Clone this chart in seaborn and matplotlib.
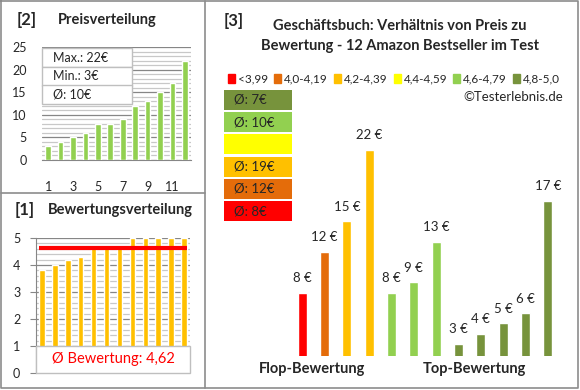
import seaborn as sns
import matplotlib.pyplot as plt
from matplotlib.patches import Rectangle, Patch
from matplotlib.lines import Line2D
from matplotlib.ticker import MultipleLocator
from matplotlib.transforms import blended_transform_factory

# [2] sorted prices of the 12 books
price_sorted = [3, 4, 5, 6, 8, 8, 9, 12, 13, 15, 17, 22]
price_ticks = ['1', '3', '5', '7', '9', '11']
price_stats = ['Max.: 22€', 'Min.: 3€', 'Ø: 10€']

# [1] sorted ratings
ratings = [3.8, 4.0, 4.2, 4.3, 4.7, 4.7, 4.7, 5.0, 5.0, 5.0, 5.0, 5.0]
rating_avg = 4.62
rating_avg_label = 'Ø Bewertung: 4,62'

# [3] price per book, grouped by rating class
book_ids = [str(i) for i in range(1, 13)]
book_prices = [8, 12, 15, 22, 8, 9, 13, 3, 4, 5, 6, 17]
book_classes = ['<3,99', '4,0-4,19', '4,2-4,39', '4,2-4,39', '4,6-4,79', '4,6-4,79',
                '4,6-4,79', '4,8-5,0', '4,8-5,0', '4,8-5,0', '4,8-5,0', '4,8-5,0']
class_names = ['<3,99', '4,0-4,19', '4,2-4,39', '4,4-4,59', '4,6-4,79', '4,8-5,0']
class_colors = ['#FF0000', '#E46C0A', '#FFC000', '#FFFF00', '#92D050', '#77933C']
class_avg = ['Ø: 8€', 'Ø: 12€', 'Ø: 19€', '', 'Ø: 10€', 'Ø: 7€']

W, H = 580, 390
GRID_DARK = '#868686'
GRID_LIGHT = '#C8C8C8'
FRAME = '#8C8C8C'

sns.set_style('white')
plt.rcParams['font.family'] = ['Lato', 'DejaVu Sans']


def fx(px):
    return px / W


def fy(py):
    return 1 - py / H


def axes_px(left, top, right, bottom):
    return [fx(left), fy(bottom), (right - left) / W, (bottom - top) / H]


fig = plt.figure(figsize=(W / 100, H / 100), dpi=100)

# frames
for xs, ys in [([1, 578, 578, 1, 1], [1, 1, 388, 388, 1]), ([205, 205], [1, 388]), ([1, 205], [193, 193])]:
    fig.add_artist(Line2D([fx(x) for x in xs], [fy(y) for y in ys], color=FRAME, lw=1.2,
                          transform=fig.transFigure))

# ---- [2] Preisverteilung
ax2 = fig.add_axes(axes_px(42, 47, 191, 160))
sns.barplot(x=book_ids, y=price_sorted, color='#92D050', width=0.45, ax=ax2, zorder=3, saturation=1)
ax2.set_ylim(0, 25)
ax2.set_xlim(-0.5, 11.5)
ax2.set_yticks(range(0, 26, 5))
ax2.yaxis.set_minor_locator(MultipleLocator(1))
ax2.set_xticks(range(0, 12, 2))
ax2.set_xticklabels(price_ticks)
ax2.grid(True, axis='y', which='major', color=GRID_DARK, lw=0.9)
ax2.grid(True, axis='y', which='minor', color=GRID_LIGHT, lw=0.9)
ax2.set_axisbelow(True)
for s in ['top', 'right', 'left']:
    ax2.spines[s].set_visible(False)
ax2.spines['bottom'].set_color(GRID_DARK)
ax2.tick_params(axis='y', length=0, pad=11, labelsize=9)
ax2.tick_params(axis='x', length=0, pad=15, labelsize=9)
ax2.tick_params(which='minor', length=0)
ax2.set_xlabel('')
ax2.set_ylabel('')

fig.text(fx(17), fy(20), '[2]', fontsize=12, fontweight='bold', va='center')
fig.text(fx(58), fy(20), 'Preisverteilung', fontsize=10.5, fontweight='bold', va='center')

row_tops = [48, 67, 85]
for top, label in zip(row_tops, price_stats):
    fig.add_artist(Rectangle((fx(42), fy(top + 18.5)), 90 / W, 18.5 / H, transform=fig.transFigure,
                             facecolor='white', edgecolor='#BFBFBF', lw=1))
    fig.text(fx(53), fy(top + 9.5), label, fontsize=9, va='center')

# ---- [1] Bewertungsverteilung
ax1 = fig.add_axes(axes_px(35.5, 238, 190.5, 373))
sns.barplot(x=book_ids, y=ratings, color='#FFC000', width=0.42, ax=ax1, zorder=3, saturation=1)
ax1.set_ylim(0, 5)
ax1.set_xlim(-0.5, 11.5)
ax1.yaxis.set_minor_locator(MultipleLocator(0.2))
ax1.grid(True, axis='y', which='major', color=GRID_DARK, lw=0.9)
ax1.grid(True, axis='y', which='minor', color=GRID_LIGHT, lw=0.9)
ax1.set_axisbelow(True)
for s in ['top', 'right', 'bottom']:
    ax1.spines[s].set_visible(False)
ax1.spines['left'].set_color(GRID_DARK)
ax1.tick_params(axis='y', which='major', length=4, color=GRID_DARK, direction='out', pad=7, labelsize=9, left=True)
ax1.tick_params(which='minor', length=0)
ax1.set_xticks([])
ax1.set_xlabel('')
ax1.set_ylabel('')
ax1.hlines(rating_avg, -0.2, len(ratings) - 0.8, color='#FF0000', lw=3, zorder=4)

trans = blended_transform_factory(ax1.transAxes, ax1.transData)
ax1.add_patch(Rectangle((0, 0), 1, 1, transform=trans, facecolor='white', edgecolor='#BFBFBF',
                        lw=1, zorder=5, clip_on=False))
ax1.text(0.5, 0.5, rating_avg_label, transform=trans, ha='center', va='center',
         color='#FF0000', fontsize=10.5, zorder=6)

fig.text(fx(15), fy(210), '[1]', fontsize=12, fontweight='bold', va='center')
fig.text(fx(48), fy(210), 'Bewertungsverteilung', fontsize=10.5, fontweight='bold', va='center')

# ---- [3] Preis zu Bewertung (value axis starts a little above zero, as in the original)
ax3 = fig.add_axes(axes_px(291, 119, 559, 356))
palette = dict(zip(class_names, class_colors))
sns.barplot(x=book_ids, y=book_prices, hue=book_classes, palette=palette, dodge=False,
            width=0.4, legend=False, ax=ax3, saturation=1)
ax3.set_ylim(1.8, 25)
ax3.set_xlim(-0.5, 11.5)
ax3.axis('off')
for c in ax3.containers:
    ax3.bar_label(c, fmt='{:.0f} €', padding=6, fontsize=9.5)

fig.text(fx(224), fy(21), '[3]', fontsize=12, fontweight='bold', va='center')
fig.text(fx(400), fy(36), 'Geschäftsbuch: Verhältnis von Preis zu\nBewertung - 12 Amazon Bestseller im Test',
         fontsize=10.5, fontweight='bold', ha='center', va='center', linespacing=1.6)

handles = [Patch(color=c, label=n) for n, c in zip(class_names, class_colors)]
fig.legend(handles=handles, ncol=6, loc='center', bbox_to_anchor=(fx(394), fy(79)), frameon=False,
           handlelength=0.6, handleheight=0.7, handletextpad=0.25, columnspacing=0.5,
           fontsize=8.5, borderpad=0, borderaxespad=0)
fig.text(fx(563), fy(97), '©Testerlebnis.de', fontsize=9.5, ha='right', va='center')

# average boxes, top to bottom in reverse class order
box_top = 90
for color, label in zip(class_colors[::-1], class_avg[::-1]):
    fig.add_artist(Rectangle((fx(224), fy(box_top + 20)), 68 / W, 20 / H, transform=fig.transFigure,
                             facecolor=color, edgecolor='none'))
    fig.text(fx(234), fy(box_top + 10), label, fontsize=9.5, va='center')
    box_top += 22.2

fig.text(fx(312), fy(369), 'Flop-Bewertung', fontsize=10.5, fontweight='bold', ha='center', va='center')
fig.text(fx(474), fy(369), 'Top-Bewertung', fontsize=10.5, fontweight='bold', ha='center', va='center')

fig.savefig('out.png', dpi=100)
